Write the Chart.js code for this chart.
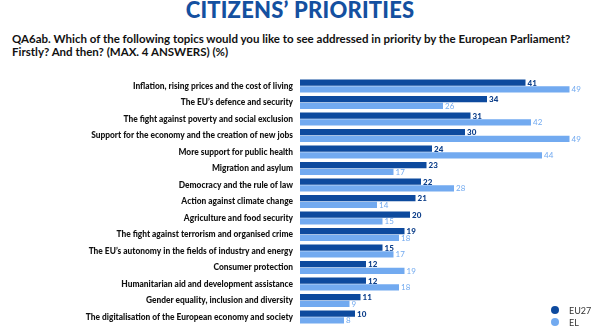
<!DOCTYPE html>
<html>
<head>
<meta charset="utf-8">
<script src="https://cdn.jsdelivr.net/npm/chart.js@4"></script>
<style>
  html, body { margin: 0; padding: 0; background: #fff; }
  body { width: 600px; height: 335px; position: relative; overflow: hidden; font-family: Lato, "Open Sans", sans-serif; }
  #title { position: absolute; left: 0; width: 600px; top: -4px; text-align: center; font-weight: 900; font-size: 22px; color: #1450a0; letter-spacing: 0.2px; }
  #question { position: absolute; left: 12px; top: 32px; width: 590px; font-weight: 700; font-size: 11.5px; line-height: 13px; color: #111; }
  #wrap { position: absolute; left: 0; top: 70px; width: 600px; height: 265px; }
  #legend { position: absolute; left: 551px; top: 304px; font-size: 9px; color: #333; }
  .li { display: flex; align-items: center; height: 12px; }
  .dot { width: 8px; height: 8px; border-radius: 50%; margin-right: 10px; }
</style>
</head>
<body>
<div id="title">CITIZENS’ PRIORITIES</div>
<div id="question">QA6ab. Which of the following topics would you like to see addressed in priority by the European Parliament? Firstly? And then? (MAX. 4 ANSWERS) (%)</div>
<div id="wrap"><canvas id="c"></canvas></div>
<div id="legend"></div>
<script>
const categories = [
  "Inflation, rising prices and the cost of living",
  "The EU’s defence and security",
  "The fight against poverty and social exclusion",
  "Support for the economy and the creation of new jobs",
  "More support for public health",
  "Migration and asylum",
  "Democracy and the rule of law",
  "Action against climate change",
  "Agriculture and food security",
  "The fight against terrorism and organised crime",
  "The EU’s autonomy in the fields of industry and energy",
  "Consumer protection",
  "Humanitarian aid and development assistance",
  "Gender equality, inclusion and diversity",
  "The digitalisation of the European economy and society"
];
const seriesNames = ["EU27", "EL"];
const eu27 = [41, 34, 31, 30, 24, 23, 22, 21, 20, 19, 15, 12, 12, 11, 10];
const el = [49, 26, 42, 49, 44, 17, 28, 14, 15, 18, 17, 19, 18, 9, 8];
const colors = ["#0d4a9e", "#72aaf0"];

const valueLabels = {
  id: 'valueLabels',
  afterDatasetsDraw(chart) {
    const ctx = chart.ctx;
    ctx.save();
    chart.data.datasets.forEach((ds, di) => {
      const meta = chart.getDatasetMeta(di);
      ctx.font = (di === 0 ? '900 ' : '400 ') + '8px Lato, sans-serif';
      ctx.fillStyle = di === 0 ? '#0d3f8a' : '#72aaf0';
      ctx.textAlign = 'left';
      ctx.textBaseline = 'middle';
      meta.data.forEach((bar, i) => {
        ctx.fillText(String(ds.data[i]), bar.x + 2, bar.y + 0.5);
      });
    });
    ctx.restore();
  }
};

new Chart(document.getElementById('c'), {
  type: 'bar',
  data: {
    labels: categories,
    datasets: [
      { label: seriesNames[0], data: eu27, backgroundColor: colors[0], borderWidth: 0 },
      { label: seriesNames[1], data: el, backgroundColor: colors[1], borderWidth: 0 }
    ]
  },
  options: {
    indexAxis: 'y',
    responsive: true,
    maintainAspectRatio: false,
    animation: false,
    layout: { padding: { top: 7.75, bottom: 9.75, right: 25, left: 0 } },
    datasets: { bar: { categoryPercentage: 0.8, barPercentage: 0.95 } },
    plugins: { legend: { display: false }, tooltip: { enabled: false } },
    scales: {
      x: { display: false, min: 0, max: 50 },
      y: {
        grid: { display: false, drawTicks: false },
        border: { display: false },
        ticks: { padding: 7, color: '#111', font: { family: 'Lato, sans-serif', size: 8.4, weight: '900' } },
        afterFit(scale) { scale.width = 300; scale.paddingTop = 0; scale.paddingBottom = 0; }
      }
    }
  },
  plugins: [valueLabels]
});

const lg = document.getElementById('legend');
seriesNames.forEach((n, i) => {
  const d = document.createElement('div');
  d.className = 'li';
  d.innerHTML = '<span class="dot" style="background:' + colors[i] + '"></span><span>' + n + '</span>';
  lg.appendChild(d);
});
</script>
</body>
</html>
